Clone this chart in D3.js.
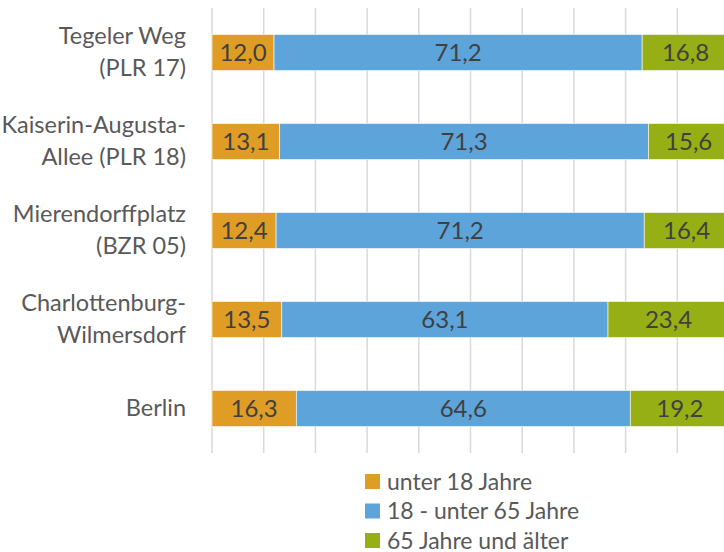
<!DOCTYPE html>
<html>
<head>
<meta charset="utf-8">
<script src="https://cdn.jsdelivr.net/npm/d3@7"></script>
<style>
  body { margin: 0; background: #fff; }
  text { font-family: Lato, "Noto Sans", sans-serif; }
</style>
</head>
<body>
<div id="chart"></div>
<script>
// Daten
const categories = [
  ["Tegeler Weg", "(PLR 17)"],
  ["Kaiserin-Augusta-", "Allee (PLR 18)"],
  ["Mierendorffplatz", "(BZR 05)"],
  ["Charlottenburg-", "Wilmersdorf"],
  ["Berlin"]
];
const seriesNames = ["unter 18 Jahre", "18 - unter 65 Jahre", "65 Jahre und älter"];
const unter18 = [12.0, 13.1, 12.4, 13.5, 16.3];
const mitte = [71.2, 71.3, 71.2, 63.1, 64.6];
const ab65 = [16.8, 15.6, 16.4, 23.4, 19.2];
const xTicks = [0, 10, 20, 30, 40, 50, 60, 70, 80, 90, 100];

const colors = ["#E09D25", "#5DA4DA", "#96AF14"];

const svgWidth = 724;
const svgHeight = 552;
const margin = { top: 8, left: 212 };
const plotWidth = 517;   // 0..100 % (rechter Rand ist abgeschnitten)
const plotHeight = 445;

const svg = d3.select("#chart").append("svg")
  .attr("width", svgWidth)
  .attr("height", svgHeight);

const g = svg.append("g")
  .attr("transform", "translate(" + margin.left + "," + margin.top + ")");

const keys = categories.map((c, i) => i);

const x = d3.scaleLinear().domain([0, 100]).range([0, plotWidth]);
const y = d3.scaleBand().domain(keys).range([0, plotHeight]).paddingInner(0.595).paddingOuter(0.2975);

// Gitterlinien
g.append("g")
  .selectAll("line")
  .data(xTicks)
  .enter().append("line")
  .attr("x1", d => x(d))
  .attr("x2", d => x(d))
  .attr("y1", 0)
  .attr("y2", plotHeight)
  .attr("stroke", "#d9d9d9")
  .attr("stroke-width", 1.5);

// Gestapelte Daten
const rows = keys.map(i => ({ idx: i, a: unter18[i], b: mitte[i], c: ab65[i] }));
const stack = d3.stack().keys(["a", "b", "c"]);
const stacked = stack(rows);

const layers = g.selectAll(".layer")
  .data(stacked)
  .enter().append("g")
  .attr("class", "layer")
  .attr("fill", (d, i) => colors[i]);

layers.selectAll("rect")
  .data(d => d)
  .enter().append("rect")
  .attr("x", d => x(d[0]))
  .attr("y", d => y(d.data.idx))
  .attr("width", d => x(d[1]) - x(d[0]))
  .attr("height", y.bandwidth())
  .attr("stroke", "#fff")
  .attr("stroke-width", 0.6);

// Werte in den Balken
layers.selectAll("text")
  .data(d => d.map(v => ({ v: v, key: d.key })))
  .enter().append("text")
  .attr("x", d => x((d.v[0] + d.v[1]) / 2))
  .attr("y", d => y(d.v.data.idx) + y.bandwidth() / 2)
  .attr("dy", "0.36em")
  .attr("text-anchor", "middle")
  .style("fill", "#404040")
  .style("font-size", "24px")
  .text(d => d3.format(".1f")(d.v.data[d.key]).replace(".", ","));

// Kategorien (y-Achse)
const labels = g.selectAll(".cat")
  .data(categories)
  .enter().append("text")
  .attr("class", "cat")
  .attr("text-anchor", "end")
  .attr("x", -26)
  .attr("y", (d, i) => y(i) + y.bandwidth() / 2)
  .style("fill", "#595959")
  .style("font-size", "23.5px");

labels.selectAll("tspan")
  .data(d => d.map((t, j) => ({ t: t, j: j, n: d.length })))
  .enter().append("tspan")
  .attr("x", -26)
  .attr("y", function (d) {
    const cy = +this.parentNode.getAttribute("y") - 1;
    return cy + (d.j - (d.n - 1) / 2) * 32;
  })
  .attr("dy", "0.36em")
  .text(d => d.t);

// Legende
const legend = svg.append("g")
  .attr("transform", "translate(365,474)");

const item = legend.selectAll("g")
  .data(seriesNames)
  .enter().append("g")
  .attr("transform", (d, i) => "translate(0," + i * 29.5 + ")");

item.append("rect")
  .attr("width", 15)
  .attr("height", 15)
  .attr("fill", (d, i) => colors[i]);

item.append("text")
  .attr("x", 22)
  .attr("y", 7.5)
  .attr("dy", "0.36em")
  .style("fill", "#595959")
  .style("font-size", "23px")
  .text(d => d);
</script>
</body>
</html>
